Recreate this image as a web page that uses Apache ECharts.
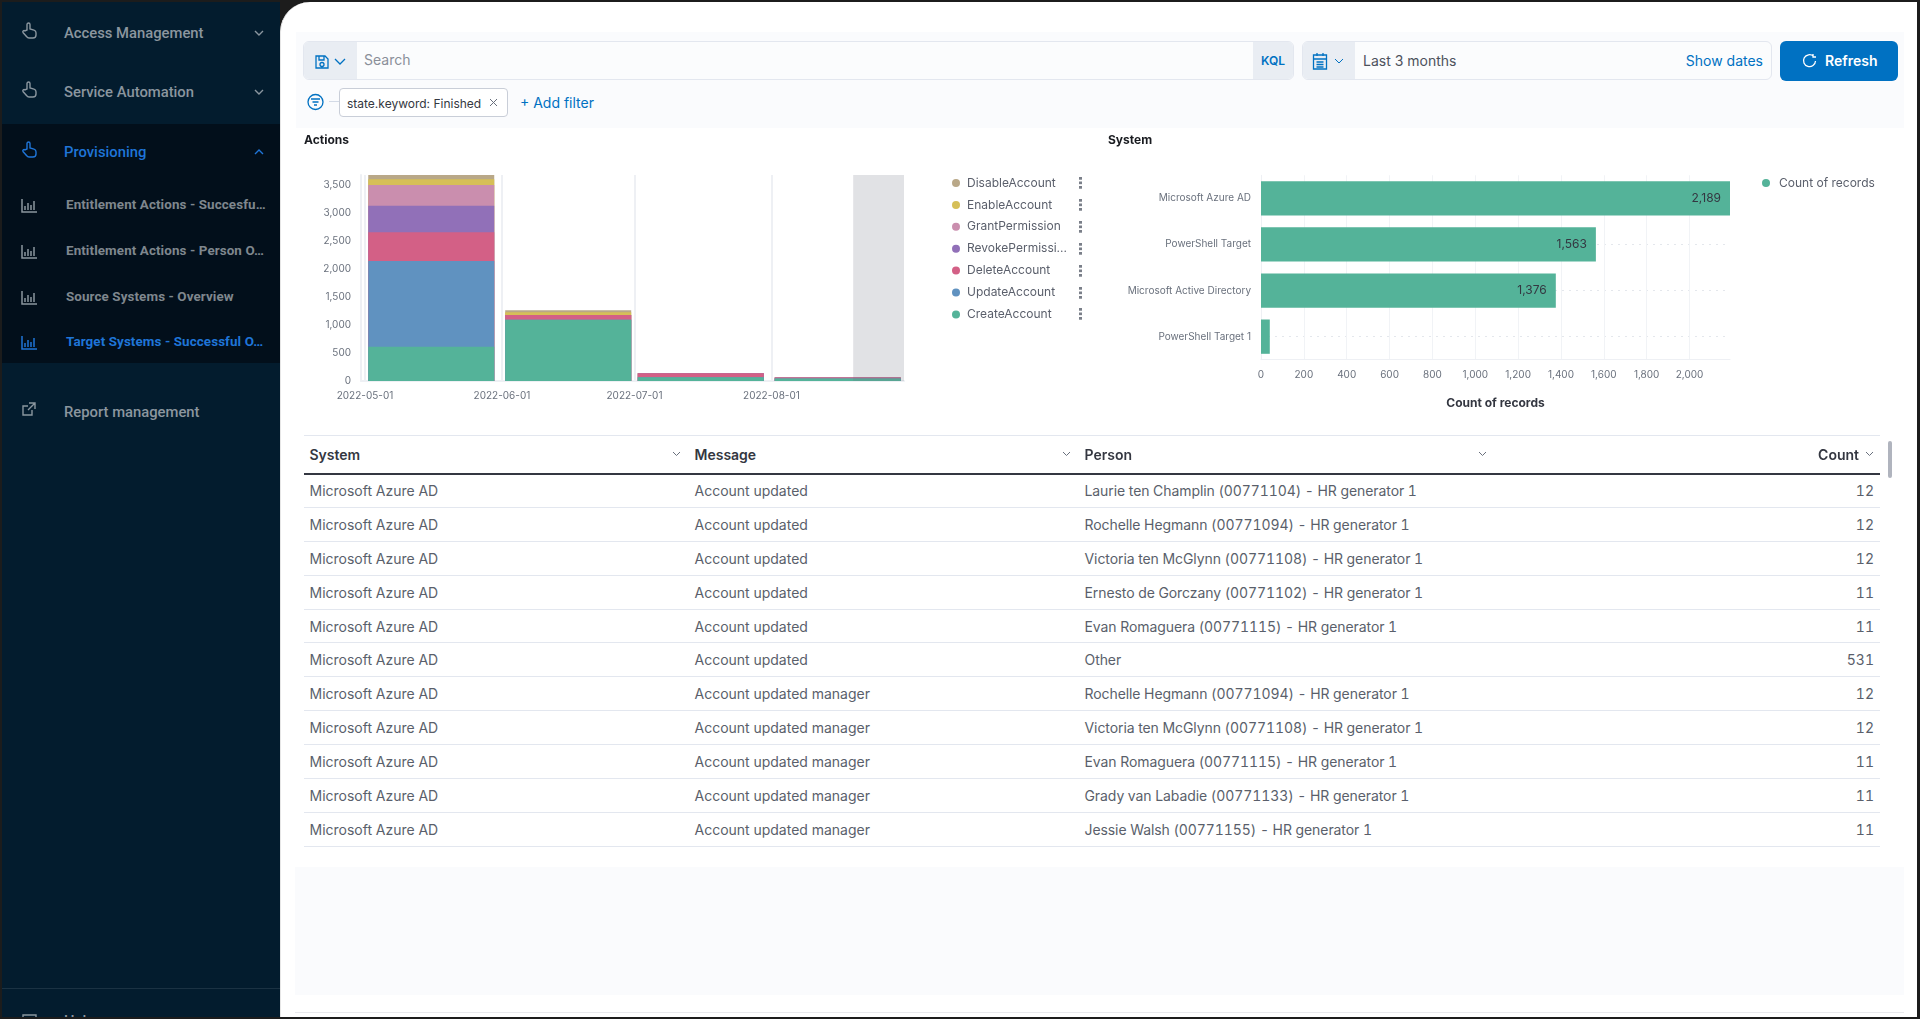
<!DOCTYPE html>
<html>
<head>
<meta charset="utf-8">
<title>Target Systems - Successful Operations</title>
<script src="https://cdn.jsdelivr.net/npm/echarts@6/dist/echarts.min.js"></script>
<style>
  html, body { margin: 0; padding: 0; width: 1920px; height: 1019px; overflow: hidden; background: #1c1c1c; }
  .abs, .abs * { box-sizing: border-box; }
  .abs { position: absolute; }
  #side { left: 2px; top: 2px; width: 278px; height: 1015px; background: #031c2e; overflow: hidden; font-family: Roboto, sans-serif; }
  #side .band { position: absolute; left: 0; top: 122px; width: 100%; height: 239px; background: #020f1b; }
  #side .foot { position: absolute; left: 0; top: 986px; width: 100%; height: 1px; background: #1b3243; }
  #side .item { position: absolute; white-space: nowrap; line-height: 20px; color: #8b969f; }
  #side .main { font-size: 14.8px; font-weight: 500; left: 62px; }
  #side .sub { font-size: 13.4px; font-weight: 700; left: 64px; color: #7f878e; letter-spacing: .1px; }
  #side .on { color: #1f75d8; }
  #side svg { position: absolute; fill: none; stroke: #8b969f; stroke-width: 1.4; }
  #side svg.on { stroke: #1f75d8; }
  #panel { left: 280px; top: 2px; width: 1637px; height: 1015px; background: #fff; border-top-left-radius: 30px; border-left: 1px solid #e6e6e6; }
  .tint { background: #fafbfd; }
  .box { background: #fbfcfd; border: 1px solid #e3e7ef; border-radius: 6px; overflow: hidden; font: 14px Inter, sans-serif; }
  .pre { position: absolute; top: 0; height: 100%; background: #e9edf3; }
  .txt { position: absolute; white-space: nowrap; font-family: Inter, sans-serif; }
  .ic { position: absolute; fill: none; stroke: #0071c2; stroke-width: 1.3; }
  .more { position: absolute; width: 3px; height: 12px; background: radial-gradient(circle at 50% 1.5px, #7a7f89 1.5px, transparent 1.6px) 0 0 / 3px 4.5px repeat-y; }
  #chart1, #chart2 { position: absolute; }
  #tbl { left: 303.5px; top: 435px; width: 1576.5px; border-collapse: collapse; table-layout: fixed; font: 14px Inter, sans-serif; font-variant-numeric: tabular-nums; color: #5a5f6b; }
  #tbl th { position: relative; height: 38px; padding: 0 6px; text-align: left; font-weight: 600; color: #343741; border-top: 1px solid #e3e7ef; border-bottom: 2px solid #343741; }
  #tbl td { height: 33.9px; padding: 0 6px; border-bottom: 1px solid #e3e7ef; white-space: nowrap; }
  #tbl td:nth-child(3) { letter-spacing: -.08px; }
  #tbl .num { text-align: right; }
  #tbl th svg { position: absolute; right: 8px; top: 15px; fill: none; stroke: #69707d; stroke-width: 1; }
  #tbl th.num { padding-right: 21px; }
  #tbl th.num svg { right: 6px; }
</style>
</head>
<body>
<div id="side" class="abs">
  <div class="band"></div>
  <div class="foot"></div>
  <div id="sideItems"></div>
  <svg style="left:19px;top:1011px" width="17" height="16" viewBox="0 0 17 16"><path d="M2 2h13v10H2z"/></svg>
  <div class="item main" style="top:1009px;left:62px">Help</div>
</div>
<div id="panel" class="abs"></div>

<div class="abs tint" style="left:296px;top:32px;width:1608px;height:96px"></div>
<div class="abs box" style="left:303px;top:41px;width:991px;height:39px">
  <div class="pre" style="left:0;width:53px"></div>
  <svg class="ic" style="left:10px;top:12px" width="16" height="16" viewBox="0 0 16 16"><path d="M2 2h9l3 3v9H2zM5 2v4h5V2M6 10.500a2 2 0 1 0 4 0a2 2 0 1 0-4 0"/></svg>
  <svg class="ic" style="left:30px;top:16px" width="12" height="8" viewBox="0 0 12 8"><path d="M1 1l5 5 5-5"/></svg>
  <div class="txt" style="left:60px;top:9px;color:#8a8f99">Search</div>
  <div class="pre" style="left:949px;width:42px"></div>
  <div class="txt" style="left:957px;top:11px;color:#0071c2;font-size:12px;font-weight:600">KQL</div>
</div>
<div class="abs box" style="left:1302px;top:41px;width:470px;height:39px">
  <div class="pre" style="left:0;width:52px"></div>
  <svg class="ic" style="left:9px;top:10px" width="16" height="18" viewBox="0 0 16 18"><path d="M1.500 3h13v14h-13zM1.500 7h13M5 1v3M11 1v3M4.500 10h7M4.500 12.500h7M4.500 15h7"/></svg>
  <svg class="ic" style="left:31px;top:16px;stroke-width:1" width="10" height="7" viewBox="0 0 10 7"><path d="M1 1l4 4 4-4"/></svg>
  <div class="txt" style="left:60px;top:10px;color:#4d525c">Last 3 months</div>
  <div class="txt" style="right:8px;top:10px;color:#0071c2">Show dates</div>
</div>
<div class="abs" style="left:1780px;top:41px;width:118px;height:40px;background:#0071c2;border-radius:6px">
  <svg class="ic" style="left:22px;top:12px;stroke:#fff" width="15" height="16" viewBox="0 0 15 16"><path d="M11.500 3.200A6 6 0 1 0 13.500 8M11 1v3h3"/></svg>
  <div class="txt" style="left:45px;top:11px;color:#fff;font-size:14px;font-weight:600">Refresh</div>
</div>
<svg class="ic abs" style="left:307px;top:93px" width="20" height="18" viewBox="0 0 20 18"><circle cx="8.500" cy="9" r="7.500"/><path d="M4 6h9M5.500 9h6M7 12h3"/></svg>
<div class="abs" style="left:329px;top:101px;width:10px;height:1px;background:#d3dae6"></div>
<div class="abs box" style="left:339px;top:88px;width:169px;height:29px;background:#fff;border-color:#c9ced8;border-radius:4px">
  <div class="txt" style="left:7px;top:7px;font-size:12px;color:#343741">state.keyword: Finished</div>
  <svg class="ic" style="left:149px;top:9px;stroke:#69707d;stroke-width:1" width="9" height="9" viewBox="0 0 9 9"><path d="M1 1l7 7M8 1l-7 7"/></svg>
</div>
<div class="txt" style="left:520px;top:94px;font-size:14px;color:#0071c2">+ Add filter</div>

<div id="chart1" style="left:296px;top:130px;width:790px;height:290px"></div>
<div id="chart2" style="left:1100px;top:130px;width:804px;height:290px"></div>
<div id="moreDots"></div>

<table id="tbl" class="abs">
  <colgroup><col style="width:385px"><col style="width:390px"><col style="width:416px"><col></colgroup>
  <thead><tr id="tblHead"></tr></thead>
  <tbody id="tblBody"></tbody>
</table>
<div class="abs" style="left:1888px;top:441px;width:4px;height:37px;background:#b0b4be;border-radius:2px"></div>
<div class="abs tint" style="left:295px;top:867px;width:1609px;height:128px"></div>
<div class="abs" style="left:295px;top:1012px;width:1609px;height:1px;background:#e8e9ed"></div>

<script>
// bars of a monthly histogram fill the whole month, so they sit on the middle of it
var actionBuckets = ['2022-05-16', '2022-06-16', '2022-07-16', '2022-08-16'];
var actionTicks = ['2022-05-01', '2022-06-01', '2022-07-01', '2022-08-01'];
var createAccount = [615, 1095, 68, 45];
var updateAccount = [1533, 0, 0, 0];
var deleteAccount = [513, 85, 70, 18];
var revokePermission = [477, 0, 0, 0];
var grantPermission = [370, 0, 0, 0];
var enableAccount = [101, 50, 0, 0];
var disableAccount = [78, 36, 0, 0];
var actionLegend = ['DisableAccount', 'EnableAccount', 'GrantPermission', 'RevokePermission', 'DeleteAccount', 'UpdateAccount', 'CreateAccount'];
var actionValueTicks = [0, 500, 1000, 1500, 2000, 2500, 3000, 3500];

var systemNames = ['Microsoft Azure AD', 'PowerShell Target', 'Microsoft Active Directory', 'PowerShell Target 1'];
var systemCounts = [2189, 1563, 1376, 41];
var systemValueTicks = [0, 200, 400, 600, 800, 1000, 1200, 1400, 1600, 1800, 2000];

var tableColumns = ['System', 'Message', 'Person', 'Count'];
var rowSystem = 'Microsoft Azure AD';
var rowMessages = ['Account updated', 'Account updated', 'Account updated', 'Account updated', 'Account updated', 'Account updated', 'Account updated manager', 'Account updated manager', 'Account updated manager', 'Account updated manager', 'Account updated manager'];
var rowPersons = [
  'Laurie ten Champlin (00771104) - HR generator 1',
  'Rochelle Hegmann (00771094) - HR generator 1',
  'Victoria ten McGlynn (00771108) - HR generator 1',
  'Ernesto de Gorczany (00771102) - HR generator 1',
  'Evan Romaguera (00771115) - HR generator 1',
  'Other',
  'Rochelle Hegmann (00771094) - HR generator 1',
  'Victoria ten McGlynn (00771108) - HR generator 1',
  'Evan Romaguera (00771115) - HR generator 1',
  'Grady van Labadie (00771133) - HR generator 1',
  'Jessie Walsh (00771155) - HR generator 1'
];
var rowCounts = [12, 12, 12, 11, 11, 531, 12, 12, 11, 11, 11];

var menuMain = [['Access Management', 22, false], ['Service Automation', 81, false], ['Provisioning', 141, true], ['Report management', 401, false]];
var menuSub = [['Entitlement Actions - Succesfu…', 193, false], ['Entitlement Actions - Person O…', 239, false], ['Source Systems - Overview', 285, false], ['Target Systems - Successful O…', 330, true]];

var GREY = '#6a717d', FAINT = '#eef0f4';
var hand = '<path d="M6 8V2.500a1.500 1.500 0 0 1 3 0V7l4 1.200c1.300.4 2 1.300 2 2.600V13c0 1.700-1.300 3-3 3H8c-1 0-1.800-.5-2.300-1.300L2 10.500c-.8-1.300.9-2.600 2-1.500z"/>';
var link = '<path d="M11 9v5H2V5h5M8 2h6v6M14 2L7 9"/>';
var bars = '<path d="M1 1v13h15M4 12V8M7 12V5M10 12V7M13 12V3" stroke-width="1.500"/>';

function fmt(v) {
  return echarts.format.addCommas(v);
}
function t(s) {
  return new Date(s + 'T00:00:00').getTime();
}

function buildMenu() {
  var html = '';
  menuMain.forEach(function(m) {
    var on = m[2] ? ' on' : '';
    var icon = m[0] === 'Report management' ? link : hand;
    html += '<svg class="' + on + '" style="left:19px;top:' + (m[1] - 2) + 'px" width="17" height="18" viewBox="0 0 17 18">' + icon + '</svg>';
    html += '<div class="item main' + on + '" style="top:' + (m[1] - 1) + 'px">' + m[0] + '</div>';
    if (m[0] !== 'Report management') {
      var d = m[2] ? 'M1 6l4-4 4 4' : 'M1 2l4 4 4-4';
      html += '<svg class="' + on + '" style="left:252px;top:' + (m[1] + 5) + 'px" width="10" height="8" viewBox="0 0 10 8"><path d="' + d + '"/></svg>';
    }
  });
  menuSub.forEach(function(m) {
    var on = m[2] ? ' on' : '';
    html += '<svg class="' + on + '" style="left:19px;top:' + (m[1] + 3) + 'px" width="17" height="15" viewBox="0 0 17 15">' + bars + '</svg>';
    html += '<div class="item sub' + on + '" style="top:' + m[1] + 'px">' + m[0] + '</div>';
  });
  document.getElementById('sideItems').innerHTML = html;
}

function buildTable() {
  var chev = '<svg width="9" height="6" viewBox="0 0 9 6"><path d="M1 1l3.500 3.500L8 1"/></svg>';
  document.getElementById('tblHead').innerHTML = tableColumns.map(function(c, i) {
    return '<th' + (i === 3 ? ' class="num"' : '') + '>' + c + chev + '</th>';
  }).join('');
  document.getElementById('tblBody').innerHTML = rowPersons.map(function(p, i) {
    return '<tr><td>' + rowSystem + '</td><td>' + rowMessages[i] + '</td><td>' + p + '</td><td class="num">' + rowCounts[i] + '</td></tr>';
  }).join('');
}

function buildLegendDots() {
  document.getElementById('moreDots').innerHTML = actionLegend.map(function(n, i) {
    return '<div class="more" style="left:1079px;top:' + (177 + i * 21.9) + 'px"></div>';
  }).join('');
}

// ECharts stacks on x when x is a value axis, so the stack is summed here:
// every layer is a bar from 0 up to its running total, the tallest drawn first
function buildActionSeries() {
  var layers = [
    ['CreateAccount', createAccount, '#54b399'],
    ['UpdateAccount', updateAccount, '#6092c0'],
    ['DeleteAccount', deleteAccount, '#d36086'],
    ['RevokePermission', revokePermission, '#9170b8'],
    ['GrantPermission', grantPermission, '#ca8eae'],
    ['EnableAccount', enableAccount, '#d6bf57'],
    ['DisableAccount', disableAccount, '#b9a888']
  ];
  var running = actionBuckets.map(function() { return 0; });
  var series = layers.map(function(layer) {
    return {
      name: layer[0],
      type: 'bar',
      barWidth: 126,
      barGap: '-100%',
      itemStyle: { color: layer[2] },
      data: layer[1].map(function(v, i) {
        running[i] += v;
        return [t(actionBuckets[i]), running[i]];
      })
    };
  });
  return series.reverse();
}

function drawActions() {
  var chart = echarts.init(document.getElementById('chart1'));
  var tickTimes = actionTicks.map(t);
  var series = buildActionSeries();
  // greyed end of the range, the data for it is still incomplete
  series[series.length - 1].markArea = {
    silent: true,
    z: 5,
    itemStyle: { color: 'rgba(105,112,125,0.2)' },
    data: [[{ xAxis: t('2022-08-19') + 12 * 3600e3 }, { xAxis: t('2022-08-31') }]]
  };
  chart.setOption({
    animation: false,
    textStyle: { fontFamily: 'Inter, sans-serif' },
    title: {
      text: 'Actions', left: 8, top: 4, padding: 0,
      textStyle: { fontSize: 12, fontWeight: 'bold', color: '#1a1c21', fontFamily: 'Inter, sans-serif' }
    },
    legend: {
      data: actionLegend,
      orient: 'vertical',
      left: 656,
      top: 46,
      itemWidth: 8,
      itemHeight: 8,
      itemGap: 7.9,
      icon: 'circle',
      selectedMode: false,
      padding: 0,
      textStyle: { fontSize: 12, color: '#5a5f6b', width: 104, overflow: 'truncate', ellipsis: '...', padding: [0, 0, 0, 2], lineHeight: 14 }
    },
    grid: { left: 65, top: 45, width: 543, height: 206 },
    xAxis: {
      type: 'value',
      min: t('2022-05-01') - 0.9 * 86400e3,
      max: t('2022-08-31'),
      axisLine: { show: true, lineStyle: { color: FAINT, width: 2 } },
      axisTick: { show: false, customValues: tickTimes },
      axisLabel: {
        customValues: tickTimes,
        color: GREY, fontSize: 10, margin: 10,
        formatter: function(v) { return echarts.time.format(v, '{yyyy}-{MM}-{dd}'); }
      },
      splitLine: { show: true, lineStyle: { color: FAINT, width: 2 } }
    },
    yAxis: {
      type: 'value',
      min: 0,
      max: 3687,
      axisLine: { show: true, lineStyle: { color: FAINT, width: 2 } },
      axisTick: { show: false, customValues: actionValueTicks },
      axisLabel: { customValues: actionValueTicks, color: GREY, fontSize: 10, margin: 10, formatter: fmt },
      splitLine: { show: false }
    },
    series: series
  });
}

function drawSystems() {
  var chart = echarts.init(document.getElementById('chart2'));
  chart.setOption({
    animation: false,
    textStyle: { fontFamily: 'Inter, sans-serif' },
    title: {
      text: 'System', left: 8, top: 4, padding: 0,
      textStyle: { fontSize: 12, fontWeight: 'bold', color: '#1a1c21', fontFamily: 'Inter, sans-serif' }
    },
    legend: {
      data: ['Count of records'],
      left: 662,
      top: 46,
      itemWidth: 8,
      itemHeight: 8,
      icon: 'circle',
      selectedMode: false,
      padding: 0,
      textStyle: { fontSize: 12, color: '#5a5f6b', padding: [0, 0, 0, 4], lineHeight: 14 }
    },
    grid: { left: 161, top: 45.3, width: 469, height: 184.4 },
    xAxis: {
      type: 'value',
      min: 0,
      max: 2189,
      name: 'Count of records',
      nameLocation: 'middle',
      nameGap: 38,
      nameTextStyle: { fontSize: 12, fontWeight: 'bold', color: '#343741' },
      axisLine: { show: true, lineStyle: { color: FAINT } },
      axisTick: { show: false, customValues: systemValueTicks },
      axisLabel: { customValues: systemValueTicks, color: GREY, fontSize: 10, margin: 10, formatter: fmt },
      splitLine: { show: true, lineStyle: { color: '#f1f3f6' } }
    },
    yAxis: {
      type: 'category',
      inverse: true,
      data: systemNames,
      axisLine: { show: true, lineStyle: { color: FAINT } },
      axisTick: { show: false },
      axisLabel: { color: GREY, fontSize: 10, margin: 10 },
      splitLine: { show: true, alignWithLabel: true, lineStyle: { color: '#e4e7ec', type: [2, 5] } }
    },
    series: [{
      name: 'Count of records',
      type: 'bar',
      barWidth: 34.3,
      itemStyle: { color: '#54b399' },
      label: {
        show: true,
        position: 'insideRight',
        distance: 9,
        fontSize: 12,
        color: '#343741',
        formatter: function(p) { return p.value < 100 ? '' : fmt(p.value); }
      },
      data: systemCounts
    }]
  });
}

buildMenu();
buildTable();
buildLegendDots();
drawActions();
drawSystems();
</script>
</body>
</html>
